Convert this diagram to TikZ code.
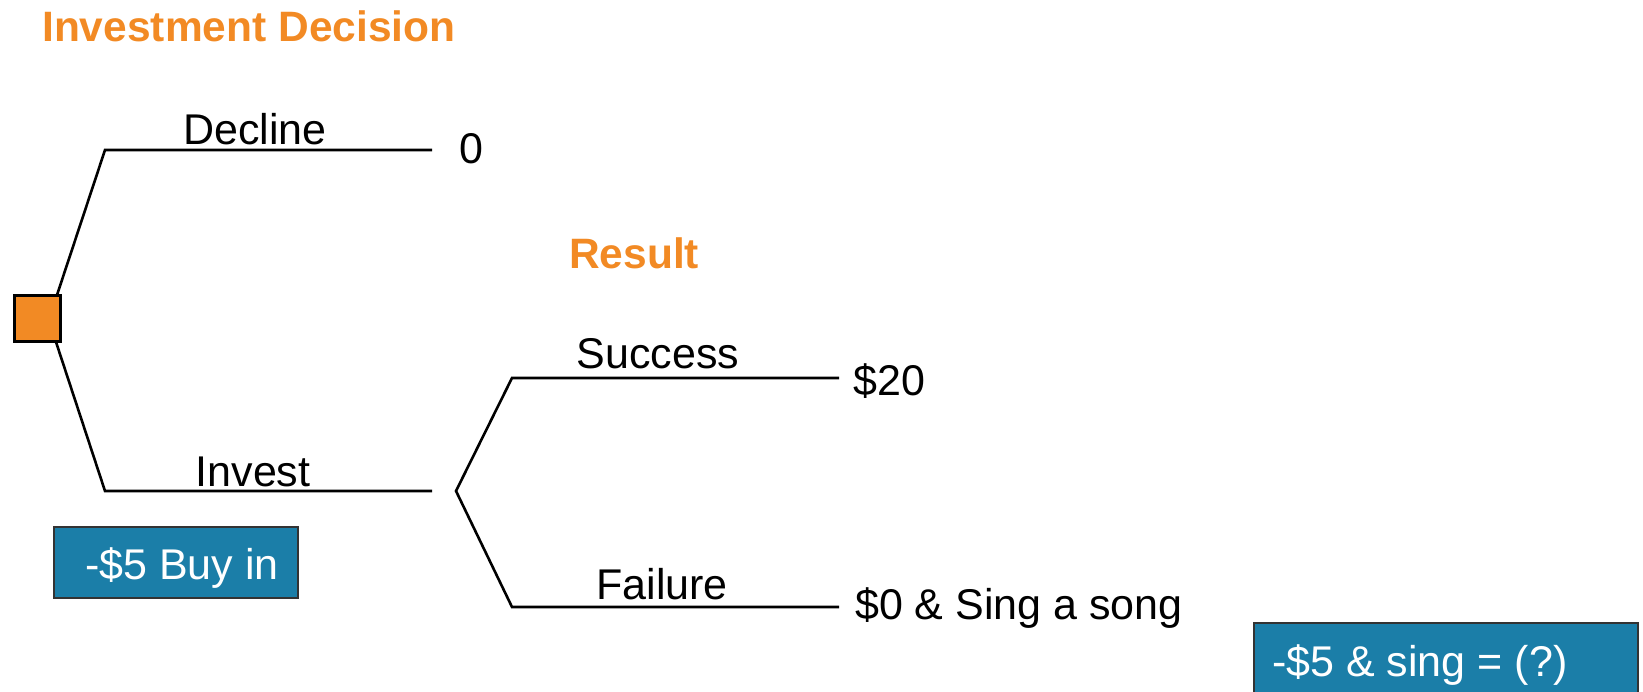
\documentclass[tikz,border=0pt]{standalone}
\usepackage{fontspec}
\setmainfont{Liberation Sans}
\definecolor{orng}{HTML}{F28A24}
\definecolor{boxblue}{HTML}{1B7EA8}
\definecolor{boxedge}{HTML}{333333}
\begin{document}
\begin{tikzpicture}[x=1pt,y=-1pt,
  txt/.style={font=\fontsize{43}{51}\selectfont, inner sep=0pt},
  ttl/.style={font=\fontsize{42.5}{51}\selectfont\bfseries, text=orng, inner sep=0pt, anchor=base west},
  lbl/.style={txt, anchor=base},
  pay/.style={txt, anchor=west},
  branch/.style={line width=2.6pt, line join=miter},
  bluebox/.style={draw=boxedge, line width=2pt, fill=boxblue, text=white, inner sep=0pt}
]
\useasboundingbox (0,0) rectangle (1643,692);

\node[ttl] (title) at (42,42) {Investment Decision};
\node[ttl] (result) at (569,269) {Result};

% decision node
\node[draw=black, line width=3pt, fill=orng, minimum size=46pt, inner sep=0pt] (dec) at (37.5,318.5) {};

\coordinate (dtop) at (57,295);
\coordinate (dbot) at (56,342);
\coordinate (d1) at (105,150);
\coordinate (d1e) at (432,150);
\coordinate (i1) at (105,491);
\coordinate (ch) at (456,491);
\coordinate (s1) at (512,378);
\coordinate (s1e) at (839,378);
\coordinate (f1) at (512,607);
\coordinate (f1e) at (839,607);

\draw[branch] (dtop) -- (d1) -- (d1e);
\draw[branch] (dbot) -- (i1) -- (i1 -| d1e);
\draw[branch] (s1e) -- (s1) -- (ch) -- (f1) -- (f1e);

\node[lbl] (decline) at (255,145) {Decline};
\node[lbl] (invest) at (253,486) {Invest};
\node[lbl] (success) at (658,368) {Success};
\node[lbl] (failure) at (662,599) {Failure};

\node[pay] (p0) at (459,149) {0};
\node[pay] (p20) at (853,381) {\$20};
\node[pay] (psing) at (855,608) {\$0 \& Sing a song};

\node[bluebox, minimum width=244pt, minimum height=71pt] (buyin) at (176,562.5) {};
\node[txt, text=white, anchor=base west] (buyintxt) at (85,579) {-\$5 Buy in};

\node[bluebox, minimum width=384pt, minimum height=90pt] (singbox) at (1446,668) {};
\node[txt, text=white, anchor=base west] (singtxt) at (1272,676) {-\$5 \& sing = (?)};
\end{tikzpicture}
\end{document}
